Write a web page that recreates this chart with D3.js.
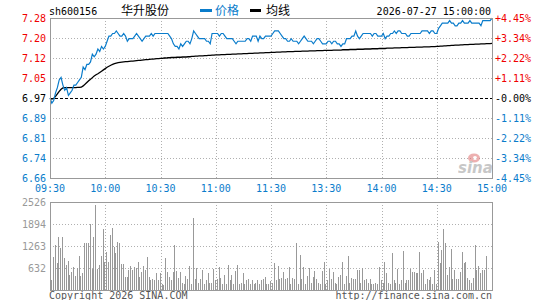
<!DOCTYPE html>
<html>
<head>
<meta charset="utf-8">
<script src="https://cdn.jsdelivr.net/npm/d3@7"></script>
<style>
  html, body { margin: 0; padding: 0; background: #fff; }
  svg { display: block; }
  text { font-family: "DejaVu Sans Mono", monospace; font-size: 10px; }
</style>
</head>
<body>
<div id="chart"></div>
<script>
// ---- data ----
const stockCode = "sh600156";
const stockName = "华升股份";
const dateTime = "2026-07-27 15:00:00";
const prevClose = 6.97;
const pctRange = 0.0445;

const timeLabels = ["09:30", "10:00", "10:30", "11:00", "11:30", "13:30", "14:00", "14:30", "15:00"];
const priceLabels = ["7.28", "7.20", "7.12", "7.05", "6.97", "6.89", "6.81", "6.74", "6.66"];
const pctLabels = ["+4.45%", "+3.34%", "+2.22%", "+1.11%", "-0.00%", "-1.11%", "-2.22%", "-3.34%", "-4.45%"];
const volLabels = [2526, 1894, 1263, 632];

// one value per minute, 241 minutes
const price = [
  6.97, 6.95, 6.96, 6.99, 7.01, 7.04, 7.05, 7.02, 7.00, 7.01,
  6.98, 6.99, 7.00, 7.02, 7.02, 7.03, 7.04, 7.05, 7.09, 7.08,
  7.10, 7.10, 7.11, 7.14, 7.13, 7.14, 7.16, 7.15, 7.17, 7.16,
  7.17, 7.19, 7.21, 7.21, 7.22, 7.22, 7.23, 7.22, 7.21, 7.21,
  7.22, 7.21, 7.19, 7.20, 7.20, 7.20, 7.21, 7.22, 7.21, 7.20,
  7.19, 7.20, 7.21, 7.21, 7.21, 7.22, 7.21, 7.22, 7.22, 7.22,
  7.22, 7.22, 7.22, 7.22, 7.22, 7.21, 7.20, 7.18, 7.17, 7.17,
  7.16, 7.18, 7.17, 7.18, 7.19, 7.19, 7.18, 7.20, 7.23, 7.22,
  7.21, 7.20, 7.20, 7.20, 7.20, 7.19, 7.19, 7.18, 7.22, 7.22,
  7.22, 7.22, 7.21, 7.22, 7.22, 7.21, 7.20, 7.20, 7.20, 7.20,
  7.19, 7.18, 7.19, 7.19, 7.19, 7.19, 7.19, 7.20, 7.20, 7.19,
  7.21, 7.21, 7.21, 7.19, 7.21, 7.20, 7.20, 7.21, 7.21, 7.21,
  7.21, 7.22, 7.23, 7.23, 7.23, 7.22, 7.21, 7.20, 7.20, 7.19,
  7.19, 7.20, 7.19, 7.19, 7.19, 7.18, 7.19, 7.20, 7.21, 7.20,
  7.19, 7.19, 7.19, 7.18, 7.19, 7.20, 7.20, 7.19, 7.18, 7.18,
  7.18, 7.19, 7.19, 7.18, 7.19, 7.19, 7.18, 7.18, 7.17, 7.18,
  7.18, 7.20, 7.20, 7.20, 7.21, 7.21, 7.23, 7.21, 7.20, 7.21,
  7.22, 7.22, 7.22, 7.22, 7.22, 7.21, 7.22, 7.22, 7.21, 7.21,
  7.21, 7.22, 7.20, 7.21, 7.21, 7.22, 7.22, 7.23, 7.22, 7.23,
  7.23, 7.22, 7.22, 7.22, 7.21, 7.21, 7.22, 7.22, 7.22, 7.22,
  7.22, 7.22, 7.23, 7.23, 7.23, 7.23, 7.22, 7.23, 7.23, 7.22,
  7.22, 7.24, 7.25, 7.26, 7.26, 7.26, 7.26, 7.27, 7.26, 7.26,
  7.25, 7.25, 7.26, 7.26, 7.27, 7.26, 7.26, 7.26, 7.27, 7.26,
  7.26, 7.26, 7.26, 7.26, 7.25, 7.27, 7.27, 7.27, 7.27, 7.27, 7.28
];

const avgPrice = [
  6.970, 6.966, 6.968, 6.976, 6.986, 6.996, 7.004, 7.009, 7.010, 7.010,
  7.010, 7.010, 7.010, 7.010, 7.010, 7.011, 7.011, 7.012, 7.017, 7.023,
  7.030, 7.037, 7.043, 7.049, 7.055, 7.060, 7.064, 7.069, 7.074, 7.079,
  7.084, 7.089, 7.093, 7.097, 7.100, 7.103, 7.105, 7.107, 7.108, 7.109,
  7.110, 7.111, 7.111, 7.112, 7.113, 7.113, 7.114, 7.115, 7.116, 7.116,
  7.117, 7.118, 7.119, 7.119, 7.120, 7.121, 7.121, 7.122, 7.123, 7.123,
  7.124, 7.124, 7.125, 7.125, 7.126, 7.126, 7.127, 7.127, 7.127, 7.128,
  7.128, 7.128, 7.129, 7.129, 7.129, 7.130, 7.130, 7.131, 7.131, 7.132,
  7.132, 7.133, 7.133, 7.133, 7.134, 7.134, 7.135, 7.135, 7.136, 7.136,
  7.137, 7.137, 7.137, 7.138, 7.138, 7.138, 7.139, 7.139, 7.139, 7.140,
  7.140, 7.140, 7.141, 7.141, 7.141, 7.142, 7.142, 7.142, 7.143, 7.143,
  7.143, 7.144, 7.144, 7.144, 7.145, 7.145, 7.145, 7.146, 7.146, 7.146,
  7.147, 7.147, 7.147, 7.148, 7.148, 7.148, 7.149, 7.149, 7.149, 7.150,
  7.150, 7.150, 7.150, 7.151, 7.151, 7.151, 7.151, 7.152, 7.152, 7.152,
  7.152, 7.153, 7.153, 7.153, 7.153, 7.154, 7.154, 7.154, 7.154, 7.155,
  7.155, 7.155, 7.155, 7.155, 7.156, 7.156, 7.156, 7.156, 7.156, 7.157,
  7.157, 7.157, 7.157, 7.158, 7.158, 7.158, 7.158, 7.159, 7.159, 7.159,
  7.159, 7.160, 7.160, 7.160, 7.160, 7.161, 7.161, 7.161, 7.161, 7.162,
  7.162, 7.162, 7.162, 7.163, 7.163, 7.163, 7.163, 7.164, 7.164, 7.164,
  7.164, 7.165, 7.165, 7.165, 7.165, 7.166, 7.166, 7.166, 7.166, 7.167,
  7.167, 7.167, 7.167, 7.168, 7.168, 7.168, 7.168, 7.169, 7.169, 7.169,
  7.170, 7.170, 7.171, 7.171, 7.172, 7.172, 7.173, 7.173, 7.174, 7.174,
  7.175, 7.175, 7.175, 7.176, 7.176, 7.177, 7.177, 7.177, 7.178, 7.178,
  7.178, 7.179, 7.179, 7.179, 7.180, 7.180, 7.180, 7.181, 7.181, 7.181, 7.182
];

const volume = [
  287, 956, 1292, 784, 1530, 1196, 1530, 918, 717, 841,
  430, 526, 669, 402, 622, 975, 402, 478, 1340, 1340,
  1340, 1894, 593, 1511, 2440, 593, 717, 975, 1741, 803,
  1100, 803, 1578, 1770, 1244, 1052, 1387, 1340, 737, 737,
  383, 373, 574, 689, 574, 669, 622, 803, 383, 526,
  689, 574, 937, 383, 287, 325, 287, 497, 287, 497,
  172, 130, 908, 526, 383, 287, 526, 1292, 555, 354,
  526, 215, 172, 402, 325, 689, 172, 2057, 325, 622,
  215, 325, 574, 172, 287, 478, 215, 215, 593, 287,
  325, 669, 354, 172, 430, 172, 717, 287, 430, 172,
  555, 717, 172, 215, 497, 172, 287, 325, 172, 287,
  172, 215, 287, 172, 287, 325, 383, 172, 172, 250,
  215, 765, 287, 689, 325, 354, 526, 306, 354, 669,
  172, 354, 325, 1340, 172, 1014, 325, 669, 172, 402,
  622, 215, 383, 555, 306, 215, 172, 555, 803, 172,
  287, 593, 325, 526, 215, 172, 383, 430, 803, 172,
  402, 975, 215, 354, 306, 306, 574, 574, 215, 622,
  287, 306, 215, 306, 172, 172, 215, 172, 669, 287,
  215, 803, 478, 215, 172, 1052, 287, 215, 593, 172,
  287, 1110, 215, 287, 287, 593, 526, 526, 478, 497,
  1090, 497, 574, 172, 325, 287, 383, 172, 574, 172,
  1387, 765, 1148, 1741, 1340, 430, 669, 1167, 306, 574,
  325, 306, 526, 1090, 784, 803, 354, 287, 215, 354,
  1292, 574, 689, 497, 574, 574, 975, 0, 0, 0, 0
];

// ---- layout ----
const W = 545, H = 300;
const left = 50, right = 492;
const mainTop = 18, mainBottom = 178;
const volTop = 202, volBottom = 290;

const red = "#f00000";
const blue = "#0a7ccb";
const gridColor = "#b0b0b0";
const frameColor = "#999";

const svg = d3.select("#chart").append("svg")
    .attr("width", W)
    .attr("height", H);

const x = d3.scaleLinear().domain([0, 240]).range([left, right]);
const y = d3.scaleLinear()
    .domain([prevClose * (1 - pctRange), prevClose * (1 + pctRange)])
    .range([mainBottom, mainTop]);
const yVol = d3.scaleLinear().domain([0, volLabels[0]]).range([volBottom, volTop]);

const priceTickVals = d3.range(9).map(k => y.domain()[1] - k * (y.domain()[1] - y.domain()[0]) / 8);
const timeTickVals = d3.range(9).map(k => k * 30);

// ---- header ----
svg.append("text").attr("x", 49).attr("y", 15).attr("fill", "#000").text(stockCode);
svg.append("text").attr("x", 121).attr("y", 15).attr("fill", "#000")
    .style("font-family", "'Noto Sans CJK SC', sans-serif").style("font-size", "12px")
    .text(stockName);
svg.append("rect").attr("x", 200).attr("y", 9).attr("width", 12).attr("height", 3).attr("fill", blue);
svg.append("text").attr("x", 215).attr("y", 15).attr("fill", blue)
    .style("font-family", "'Noto Sans CJK SC', sans-serif").style("font-size", "12px")
    .text("价格");
svg.append("rect").attr("x", 250).attr("y", 9).attr("width", 11).attr("height", 3).attr("fill", "#000");
svg.append("text").attr("x", 266).attr("y", 15).attr("fill", "#000")
    .style("font-family", "'Noto Sans CJK SC', sans-serif").style("font-size", "12px")
    .text("均线");
svg.append("text").attr("x", 491).attr("y", 15).attr("text-anchor", "end").attr("fill", "#000").text(dateTime);

// ---- main grid ----
const grid = svg.append("g").attr("stroke", gridColor).attr("stroke-dasharray", "1,2").attr("shape-rendering", "crispEdges");
priceTickVals.forEach((v, k) => {
    if (k === 0 || k === 8 || k === 4) return;
    grid.append("line").attr("x1", left).attr("x2", right).attr("y1", Math.round(y(v)) + 0.5).attr("y2", Math.round(y(v)) + 0.5);
});
timeTickVals.forEach((t, k) => {
    if (k === 0 || k === 8) return;
    const xx = Math.round(x(t)) + 0.5;
    grid.append("line").attr("x1", xx).attr("x2", xx).attr("y1", mainTop).attr("y2", mainBottom);
    grid.append("line").attr("x1", xx).attr("x2", xx).attr("y1", volTop).attr("y2", volBottom);
});
volLabels.slice(1).forEach(v => {
    const yy = Math.round(yVol(v)) + 0.5;
    grid.append("line").attr("x1", left).attr("x2", right).attr("y1", yy).attr("y2", yy);
});

// prev close dashed line
svg.append("line")
    .attr("x1", left).attr("x2", right)
    .attr("y1", Math.round(y(prevClose)) + 0.5).attr("y2", Math.round(y(prevClose)) + 0.5)
    .attr("stroke", "#000").attr("stroke-dasharray", "3,2").attr("shape-rendering", "crispEdges");

// sina watermark
const logo = svg.append("g").attr("opacity", 0.55);
logo.append("ellipse").attr("cx", 474).attr("cy", 158).attr("rx", 6).attr("ry", 4.5).attr("fill", "#e07070");
logo.append("circle").attr("cx", 475).attr("cy", 158).attr("r", 2).attr("fill", "#fff");
logo.append("text").attr("x", 458).attr("y", 173)
    .style("font-family", "'DejaVu Sans', sans-serif").style("font-size", "15px")
    .style("font-weight", "bold").style("font-style", "italic")
    .attr("fill", "#9a9a9a").text("sina");

// ---- axis labels ----
const labelColor = k => k < 4 ? red : (k === 4 ? "#000" : blue);
svg.append("g").selectAll("text")
    .data(priceTickVals)
    .enter().append("text")
    .attr("x", 46).attr("y", d => y(d)).attr("dy", "0.36em")
    .attr("text-anchor", "end")
    .attr("fill", (d, k) => labelColor(k))
    .text((d, k) => priceLabels[k]);

svg.append("g").selectAll("text")
    .data(priceTickVals)
    .enter().append("text")
    .attr("x", 495).attr("y", d => y(d)).attr("dy", "0.36em")
    .attr("fill", (d, k) => labelColor(k))
    .text((d, k) => pctLabels[k]);

svg.append("g").selectAll("text")
    .data(timeTickVals)
    .enter().append("text")
    .attr("x", d => x(d)).attr("y", 192)
    .attr("text-anchor", "middle")
    .attr("fill", blue)
    .text((d, k) => timeLabels[k]);

svg.append("g").selectAll("text")
    .data(volLabels)
    .enter().append("text")
    .attr("x", 46).attr("y", d => yVol(d)).attr("dy", "0.36em")
    .attr("text-anchor", "end")
    .attr("fill", "#999")
    .text(d => d);

// ---- volume bars ----
svg.append("g").selectAll("rect")
    .data(volume)
    .enter().append("rect")
    .attr("x", (d, i) => Math.round(x(i)) + 0.5)
    .attr("y", d => Math.round(yVol(d)))
    .attr("width", 1)
    .attr("height", d => volBottom - Math.round(yVol(d)))
    .attr("fill", "#999")
    .attr("shape-rendering", "crispEdges");

// ---- price & average lines ----
const line = d3.line().x((d, i) => x(i)).y(d => y(d));

svg.append("path")
    .datum(avgPrice)
    .attr("fill", "none")
    .attr("stroke", "#000")
    .attr("stroke-width", 1.3)
    .attr("d", line);

svg.append("path")
    .datum(price)
    .attr("fill", "none")
    .attr("stroke", blue)
    .attr("stroke-width", 1.2)
    .attr("d", line);

// ---- frames ----
svg.append("rect")
    .attr("x", left + 0.5).attr("y", mainTop + 0.5)
    .attr("width", right - left).attr("height", mainBottom - mainTop)
    .attr("fill", "none").attr("stroke", frameColor).attr("shape-rendering", "crispEdges");
svg.append("rect")
    .attr("x", left + 0.5).attr("y", volTop + 0.5)
    .attr("width", right - left).attr("height", volBottom - volTop)
    .attr("fill", "none").attr("stroke", frameColor).attr("shape-rendering", "crispEdges");

// ---- footer ----
svg.append("text").attr("x", 49).attr("y", 299).attr("fill", "#555").text("Copyright 2026 SINA.COM");
svg.append("text").attr("x", 492).attr("y", 299).attr("text-anchor", "end").attr("fill", "#555").text("http://finance.sina.com.cn");
</script>
</body>
</html>
